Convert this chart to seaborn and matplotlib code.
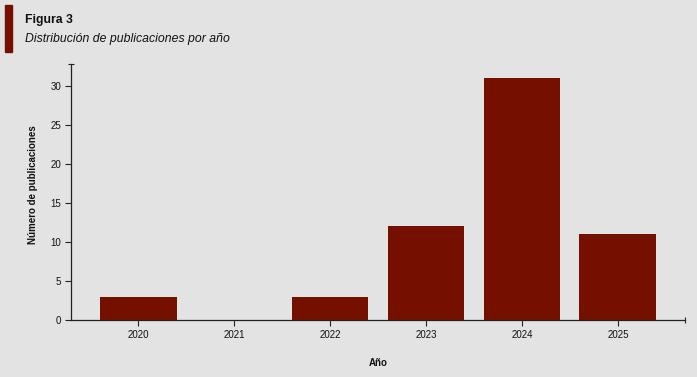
import matplotlib
matplotlib.use("Agg")
import matplotlib.pyplot as plt
import seaborn as sns
import pandas as pd
from matplotlib.patches import Rectangle
from matplotlib import font_manager

years = ["2020", "2021", "2022", "2023", "2024", "2025"]
counts = [3, 0, 3, 12, 31, 11]
yticks = [0, 5, 10, 15, 20, 25, 30]

sns.set_theme(style="white")
plt.rcParams['font.family'] = ['Liberation Sans', 'DejaVu Sans']

names = {f.name for f in font_manager.fontManager.ttflist}
narrow = 'Liberation Sans Narrow' in names

bg = "#e3e3e3"
bar_color = "#751000"

fig = plt.figure(figsize=(6.97, 3.77), dpi=100, facecolor=bg)
ax = fig.add_axes([71/697, 1 - 320/377, (685-71)/697, (320-64)/377])
ax.set_facecolor(bg)

df = pd.DataFrame({"Año": years, "n": counts})
sns.barplot(data=df, x="Año", y="n", color=bar_color, saturation=1, width=0.8,
            linewidth=0, edgecolor=bar_color, ax=ax)

ax.set_xlim(-0.7, 5.7)
ax.set_ylim(0, 32.8)
ax.set_yticks(yticks)
ax.set_yticklabels([str(v) for v in yticks])
for s in ["top", "right"]:
    ax.spines[s].set_visible(False)
for s in ["left", "bottom"]:
    ax.spines[s].set_color("#222222")
    ax.spines[s].set_linewidth(0.9)
ax.tick_params(axis="both", which="major", direction="out", length=4, width=0.8,
               color="#222222", labelsize=7, labelcolor="#111111", pad=3, bottom=True, left=True)
ax.set_xticks(range(len(years)), minor=False)
ax.set_yticks([32.8], minor=True)
ax.set_xticks([5.7], minor=True)
ax.tick_params(which="minor", direction="inout", length=5, width=0.8, color="#222222",
               left=True, bottom=True, labelleft=False, labelbottom=False)

ax.set_xlabel("Año", fontsize=7, fontweight="bold", color="#111111")
ax.set_ylabel("Número de publicaciones", fontsize=7, fontweight="bold", color="#111111")
ax.xaxis.set_label_coords(0.5, -(363-320)/256)
ax.xaxis.label.set_va("center")
ax.yaxis.set_label_coords((33-71)/614, (320-185)/256)
ax.yaxis.label.set_va("center")

fig.patches.append(Rectangle((5/697, 1 - 52/377), 7/697, 47/377, transform=fig.transFigure,
                             color=bar_color, zorder=5))
if narrow:
    tfam = ['Liberation Sans Narrow', 'Liberation Sans']
    tsize, ssize = 10.3, 10.5
else:
    tfam = ['Liberation Sans', 'DejaVu Sans']
    tsize, ssize = 8.8, 8.8
fig.text(25/697, 1 - 20/377, "Figura 3", fontsize=tsize, fontweight="bold", color="#111111",
         va="center", family=tfam)
fig.text(25/697, 1 - 39/377, "Distribución de publicaciones por año", fontsize=ssize,
         fontstyle="italic", color="#111111", va="center", family=tfam)

fig.savefig("out.png", dpi=100, facecolor=bg)
